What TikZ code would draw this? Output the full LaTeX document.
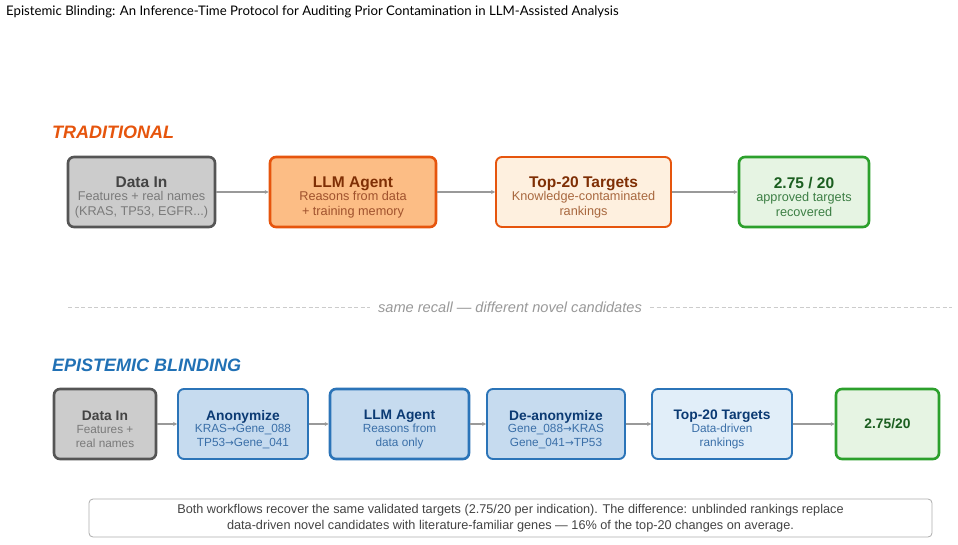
\documentclass[tikz,border=0pt]{standalone}
\usepackage{fontspec}
\setmainfont{Liberation Sans}
\newfontfamily\titlefont{Lato}
\newfontfamily\arrfont{DejaVu Sans}
\newcommand{\rarr}{{\arrfont\fontsize{10.5}{12}\selectfont →}}
\usetikzlibrary{arrows.meta}
\definecolor{grayfill}{HTML}{CCCCCC}
\definecolor{graydraw}{HTML}{555555}
\definecolor{graytitle}{HTML}{444444}
\definecolor{graysub}{HTML}{7A7A7A}
\definecolor{orlabel}{HTML}{E6550D}
\definecolor{orfill}{HTML}{FCBD85}
\definecolor{ordraw}{HTML}{E6550D}
\definecolor{ortitle}{HTML}{7F2F05}
\definecolor{orsub}{HTML}{A0522D}
\definecolor{orlight}{HTML}{FEF0DF}
\definecolor{orsub2}{HTML}{A8683F}
\definecolor{grfill}{HTML}{E6F4E3}
\definecolor{grdraw}{HTML}{2CA02C}
\definecolor{grtitle}{HTML}{1B5E20}
\definecolor{grsub}{HTML}{3D7F45}
\definecolor{bllabel}{HTML}{2171B5}
\definecolor{blfill}{HTML}{C6DBEF}
\definecolor{bllight}{HTML}{E1EEF9}
\definecolor{bldraw}{HTML}{2B74B8}
\definecolor{bltitle}{HTML}{0B3A73}
\definecolor{blsub}{HTML}{3A6FA8}
\definecolor{arrgray}{HTML}{999999}
\tikzset{
  box/.style={rounded corners=6pt, inner sep=0pt, minimum height=70},
  thickbox/.style={box, line width=2.6pt},
  thinbox/.style={box, line width=1.9pt},
  trow/.style={align=center, inner sep=0pt, yshift=-5pt, font=\fontsize{12.7}{15}\selectfont},
  brow/.style={align=center, inner sep=0pt, yshift=-5.5pt, font=\fontsize{11.8}{13.8}\selectfont},
  arr/.style={draw=arrgray, line width=1.4pt, -{Stealth[length=4pt,width=4pt]}},
  rowlabel/.style={anchor=west, inner sep=0pt, font=\fontsize{18}{20}\selectfont\bfseries\itshape},
}
\newcommand{\tline}[2]{{\fontsize{15.5}{15}\selectfont\bfseries\color{#1}#2}}
\newcommand{\sline}[2]{{\color{#1}#2}}
\newcommand{\btline}[2]{{\fontsize{13.8}{14}\selectfont\bfseries\color{#1}#2}}
\begin{document}
\begin{tikzpicture}[x=1pt,y=-1pt]
\useasboundingbox (0,0) rectangle (958,544);
\fill[white] (0,0) rectangle (958,544);
% title
\node[anchor=west, inner sep=0pt] (title) at (6,12)
  {\titlefont\fontsize{13.2}{15}\selectfont Epistemic Blinding: An Inference-Time Protocol for Auditing Prior Contamination in LLM-Assisted Analysis};
% traditional row
\node[rowlabel, text=orlabel] (tradlbl) at (52,132) {TRADITIONAL};
\node[thickbox, draw=graydraw, fill=grayfill, minimum width=147] (t1) at (141.5,192) {};
\node[trow] (t1txt) at (t1) {\tline{graytitle}{Data In}\\[-2pt]\sline{graysub}{Features + real names}\\\sline{graysub}{(KRAS, TP53, EGFR...)}};
\node[thickbox, draw=ordraw, fill=orfill, minimum width=166] (t2) at (353,192) {};
\node[trow] (t2txt) at (t2) {\tline{ortitle}{LLM Agent}\\[-2pt]\sline{orsub}{Reasons from data}\\\sline{orsub}{+ training memory}};
\node[thinbox, draw=ordraw, fill=orlight, minimum width=175] (t3) at (583.5,192) {};
\node[trow] (t3txt) at (t3) {\tline{ortitle}{Top-20 Targets}\\[-2pt]\sline{orsub2}{Knowledge-contaminated}\\\sline{orsub2}{rankings}};
\node[thickbox, draw=grdraw, fill=grfill, minimum width=130] (t4) at (804,192) {};
\node[trow] (t4txt) at (t4) {\tline{grtitle}{2.75 / 20}\\[-2pt]\sline{grsub}{approved targets}\\\sline{grsub}{recovered}};
\draw[arr] (t1) -- (t2);
\draw[arr] (t2) -- (t3);
\draw[arr] (t3) -- (t4);
% separator
\node[inner sep=0pt, font=\fontsize{14.6}{16}\selectfont\itshape, text=arrgray] (sep) at (510,307) {same recall — different novel candidates};
\coordinate (sepL) at (68,307);
\coordinate (sepR) at (952,307);
\draw[draw=grayfill, line width=1pt, dash pattern=on 4pt off 2.5pt] (sepL) -- ([xshift=-8pt]sep.west);
\draw[draw=grayfill, line width=1pt, dash pattern=on 4pt off 2.5pt] ([xshift=8pt]sep.east) -- (sepR);
% blinding row
\node[rowlabel, text=bllabel] (blindlbl) at (52,365) {EPISTEMIC BLINDING};
\node[thickbox, draw=graydraw, fill=grayfill, minimum width=102] (b1) at (105,424) {};
\node[brow] (b1txt) at (b1) {\btline{graytitle}{Data In}\\[-1pt]\sline{graysub}{Features +}\\\sline{graysub}{real names}};
\node[thinbox, draw=bldraw, fill=blfill, minimum width=130] (b2) at (243,424) {};
\node[brow] (b2txt) at (b2) {\btline{bltitle}{Anonymize}\\[-1pt]\sline{blsub}{KRAS\rarr Gene\_088}\\\sline{blsub}{TP53\rarr Gene\_041}};
\node[thickbox, draw=bldraw, fill=blfill, minimum width=139] (b3) at (399.5,424) {};
\node[brow] (b3txt) at (b3) {\btline{bltitle}{LLM Agent}\\[-1pt]\sline{blsub}{Reasons from}\\\sline{blsub}{data only}};
\node[thinbox, draw=bldraw, fill=blfill, minimum width=138] (b4) at (556,424) {};
\node[brow] (b4txt) at (b4) {\btline{bltitle}{De-anonymize}\\[-1pt]\sline{blsub}{Gene\_088\rarr KRAS}\\\sline{blsub}{Gene\_041\rarr TP53}};
\node[thinbox, draw=bldraw, fill=bllight, minimum width=140] (b5) at (722,424) {};
\node[brow] (b5txt) at (b5) {\btline{bltitle}{Top-20 Targets}\\[-1pt]\sline{blsub}{Data-driven}\\\sline{blsub}{rankings}};
\node[thickbox, draw=grdraw, fill=grfill, minimum width=103] (b6) at (887.5,424) {};
\node[inner sep=0pt] (b6txt) at (b6) {\btline{grtitle}{2.75/20}};
\draw[arr] (b1) -- (b2);
\draw[arr] (b2) -- (b3);
\draw[arr] (b3) -- (b4);
\draw[arr] (b4) -- (b5);
\draw[arr] (b5) -- (b6);
% note
\node[draw=grayfill!85!black, line width=0.8pt, rounded corners=4pt, minimum width=843, minimum height=38, inner sep=0pt, align=center, text=graytitle, font=\fontsize{12.7}{16}\selectfont] (note) at (510.5,518)
  {Both workflows recover the same validated targets (2.75/20 per indication). The difference: unblinded rankings replace\\data-driven novel candidates with literature-familiar genes — 16\% of the top-20 changes on average.};
\end{tikzpicture}
\end{document}
